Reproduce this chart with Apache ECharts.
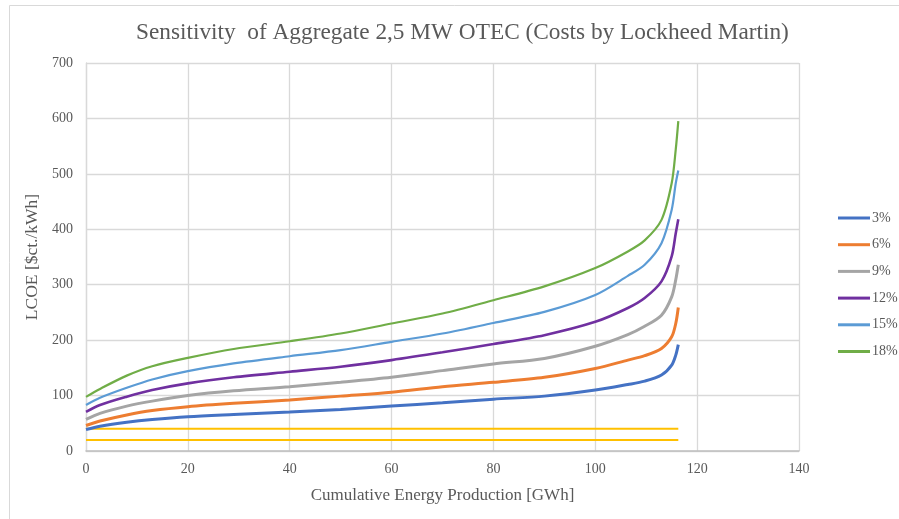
<!DOCTYPE html>
<html>
<head>
<meta charset="utf-8">
<script src="https://cdn.jsdelivr.net/npm/echarts@6/dist/echarts.min.js"></script>
<style>html,body{margin:0;padding:0;background:#fff;}#c{width:899px;height:519px;}</style>
</head>
<body>
<div id="c"></div>
<script>
const titleText = 'Sensitivity  of Aggregate 2,5 MW OTEC (Costs by Lockheed Martin)';
const xName = 'Cumulative Energy Production [GWh]';
const yName = 'LCOE [$ct./kWh]';
const energy = [0, 2.75, 8, 13, 20, 29, 40, 50, 60, 70, 80, 90, 100, 106.4, 109.7, 113, 115, 115.8, 116.3];
const seriesNames = ['3%', '6%', '9%', '12%', '15%', '18%'];
const r3  = [38.7, 44.7, 52, 57, 62, 66, 70.5, 75, 81, 87, 93.5, 99, 110, 120, 126, 137, 155, 173, 192];
const r6  = [46, 54, 65, 73, 80, 86, 92, 99, 106, 116, 124, 133, 149, 164, 172, 185, 206, 230, 259];
const r9  = [57, 68, 81, 90, 100, 108.5, 116, 124, 133, 145, 157, 167, 189, 210, 225, 245, 278, 309, 336];
const r12 = [70.5, 83, 98, 110, 122, 133, 143, 152, 164, 178, 193, 209, 233, 258, 276, 306, 351, 393, 418];
const r15 = [83, 96, 114, 129, 144, 158, 171, 182, 197, 212, 231, 251, 281.5, 316, 336, 375, 435, 483, 506];
const r18 = [97.7, 112, 136, 153, 168, 184, 198, 212, 230, 248, 272, 297, 330, 360, 380, 417, 483, 544, 595];
const refX = [0, 116.3];
const refA = [40, 40];
const refB = [20, 20];

const values = [r3, r6, r9, r12, r15, r18];
const colors = ['#4472C4', '#ED7D31', '#A5A5A5', '#7030A0', '#5B9BD5', '#70AD47'];
const widths = [3, 3, 3, 2.6, 2.2, 2.2];
const FONT = '"Liberation Serif", serif';
const TXT = '#595959';

const series = values.map((arr, i) => ({
  name: seriesNames[i],
  type: 'line',
  data: energy.map((x, j) => [x, arr[j]]),
  showSymbol: false,
  smooth: 0.3,
  lineStyle: { color: colors[i], width: widths[i] },
  itemStyle: { color: colors[i] },
  z: 3 + i
}));
[refA, refB].forEach((arr, k) => {
  series.push({
    name: 'ref' + k,
    type: 'line',
    data: refX.map((x, j) => [x, arr[j]]),
    showSymbol: false,
    lineStyle: { color: '#FFC000', width: 2 },
    itemStyle: { color: '#FFC000' },
    z: 2
  });
});

const chart = echarts.init(document.getElementById('c'), null, { renderer: 'canvas' });
chart.setOption({
  animation: false,
  backgroundColor: '#fff',
  graphic: [{
    type: 'rect', left: 7, top: 3,
    shape: { width: 1000, height: 1000 },
    style: { fill: 'none', stroke: '#d9d9d9', lineWidth: 1 }, silent: true
  }],
  title: {
    text: titleText, left: 131, top: 16,
    textStyle: { fontFamily: FONT, fontSize: 23.3, fontWeight: 'normal', color: TXT }
  },
  legend: {
    data: seriesNames,
    orient: 'vertical',
    left: 833, top: 206,
    itemGap: 12.7,
    itemWidth: 32, itemHeight: 3,
    icon: 'rect',
    textStyle: { fontFamily: FONT, fontSize: 14, color: TXT, padding: [0, 0, 0, -3] }
  },
  grid: { left: 86, right: 100, top: 63, bottom: 68 },
  xAxis: {
    type: 'value', min: 0, max: 140, interval: 20,
    name: xName, nameLocation: 'middle', nameGap: 36,
    nameTextStyle: { fontFamily: FONT, fontSize: 17, color: TXT },
    axisLine: { show: true, lineStyle: { color: '#bfbfbf', width: 1.5 } },
    axisTick: { show: false },
    axisLabel: { fontFamily: FONT, fontSize: 14, color: TXT, margin: 11 },
    splitLine: { show: true, lineStyle: { color: '#d9d9d9', width: 1.3 } }
  },
  yAxis: {
    type: 'value', min: 0, max: 700, interval: 100,
    name: yName, nameLocation: 'middle', nameGap: 36,
    nameTextStyle: { fontFamily: FONT, fontSize: 17.5, color: TXT },
    axisLine: { show: true, lineStyle: { color: '#d9d9d9', width: 1.3 } },
    axisTick: { show: false },
    axisLabel: { fontFamily: FONT, fontSize: 14, color: TXT, margin: 13 },
    splitLine: { show: true, lineStyle: { color: '#d9d9d9', width: 1.3 } }
  },
  series: series
});
</script>
</body>
</html>
